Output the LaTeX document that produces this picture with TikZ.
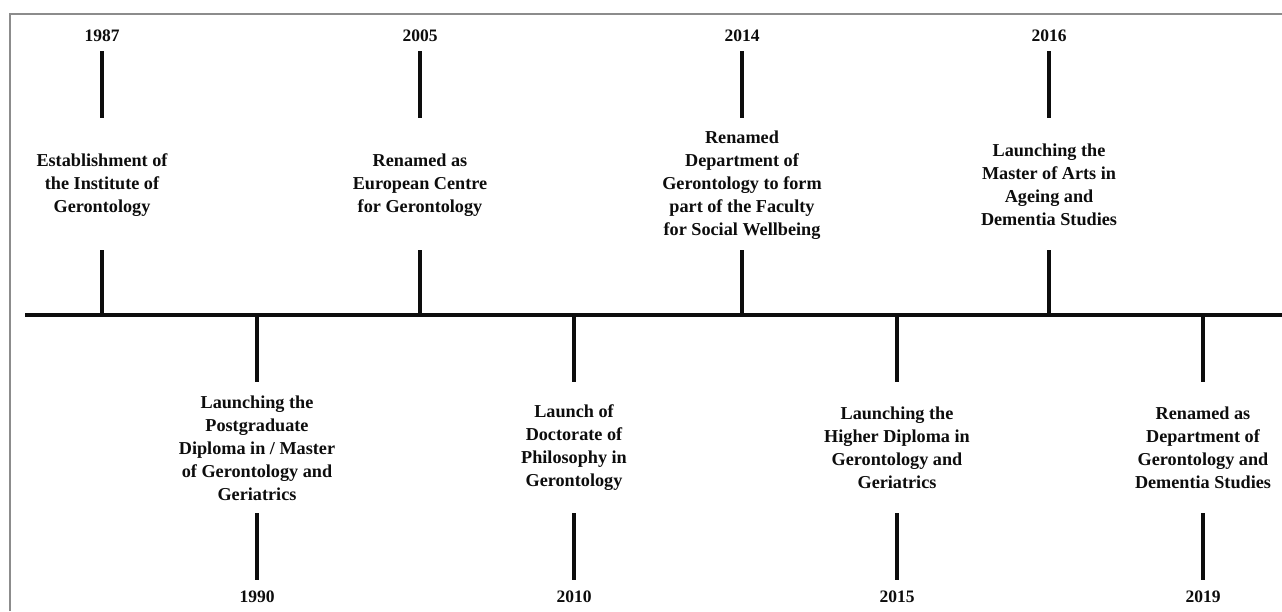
\documentclass[tikz,border=0pt]{standalone}
\usepackage{fontspec}
\setmainfont{Liberation Serif}
\usetikzlibrary{positioning}
\definecolor{LineInk}{HTML}{0D0D0D}
\definecolor{FrameGray}{HTML}{8C8C8C}
\tikzset{
  every node/.style={text=LineInk},
  yearlabel/.style={font=\bfseries\fontsize{17.5}{20}\selectfont, inner sep=0pt},
  event/.style={align=center, font=\bfseries\fontsize{18.2}{23}\selectfont, inner sep=0pt},
  stem/.style={draw=LineInk, line width=3.2pt},
  axis/.style={draw=LineInk, line width=3.8pt},
  frame/.style={draw=FrameGray, line width=1.5pt},
}
\begin{document}
\begin{tikzpicture}[x=1pt,y=-1pt]
  \useasboundingbox (0,0) rectangle (1282,611);
  \fill[white] (0,0) rectangle (1282,611);
  % Frame
  \draw[frame] (10,611) -- (10,14) -- (1282,14);
  % Time axis
  \coordinate (axisL) at (25,315);
  \coordinate (axisR) at (1282,315);
  \draw[axis] (axisL) -- (axisR);
  % Events above the axis
  \foreach \x/\yr/\txt in {
      102/1987/{Establishment of\\the Institute of\\Gerontology},
      420/2005/{Renamed as\\European Centre\\for Gerontology},
      742/2014/{Renamed\\Department of\\Gerontology to form\\part of the Faculty\\for Social Wellbeing},
      1049/2016/{Launching the\\Master of Arts in\\Ageing and\\Dementia Studies}} {
    \node[yearlabel] (y\yr) at (\x,36) {\yr};
    \node[event] (e\yr) at (\x,185) {\txt};
    \coordinate (a\yr) at (\x,51);
    \coordinate (b\yr) at (\x,118);
    \coordinate (c\yr) at (\x,250);
    \coordinate (s\yr) at (\x,315);
    \draw[stem] (a\yr) -- (b\yr);
    \draw[stem] (c\yr) -- (s\yr);
  }
  % Events below the axis
  \foreach \x/\yr/\txt in {
      257/1990/{Launching the\\Postgraduate\\Diploma in / Master\\of Gerontology and\\Geriatrics},
      574/2010/{Launch of\\Doctorate of\\Philosophy in\\Gerontology},
      897/2015/{Launching the\\Higher Diploma in\\Gerontology and\\Geriatrics},
      1203/2019/{Renamed as\\Department of\\Gerontology and\\Dementia Studies}} {
    \coordinate (s\yr) at (\x,315);
    \coordinate (a\yr) at (\x,382);
    \node[event] (e\yr) at (\x,448) {\txt};
    \coordinate (b\yr) at (\x,513);
    \coordinate (c\yr) at (\x,580);
    \node[yearlabel] (y\yr) at (\x,597) {\yr};
    \draw[stem] (s\yr) -- (a\yr);
    \draw[stem] (b\yr) -- (c\yr);
  }
\end{tikzpicture}
\end{document}
